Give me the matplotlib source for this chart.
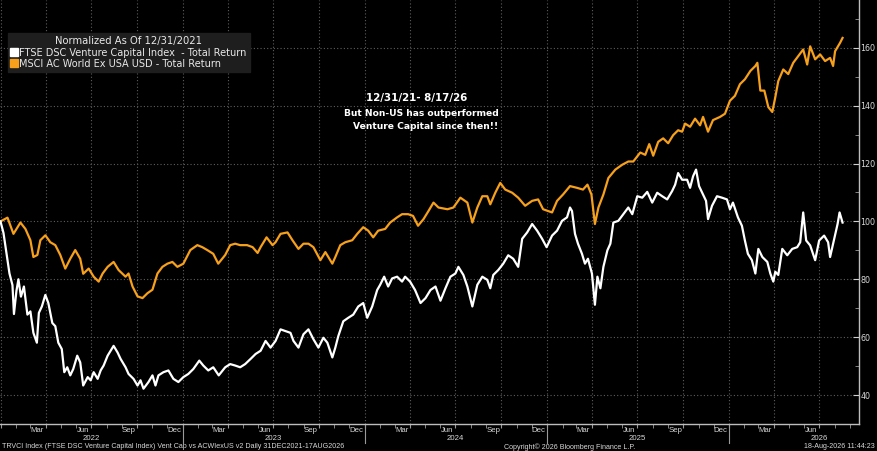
import matplotlib
matplotlib.use("Agg")
import matplotlib.pyplot as plt
import matplotlib.dates as mdates
import matplotlib.transforms as mtrans
from matplotlib.lines import Line2D
import pandas as pd

# ---------------- data ----------------
msci_dates = [
    "2021-12-31", "2022-01-14", "2022-01-26", "2022-02-09", "2022-02-19", "2022-03-01", "2022-03-07",
    "2022-03-15", "2022-03-21", "2022-03-31", "2022-04-10", "2022-04-20", "2022-04-30", "2022-05-10",
    "2022-05-20", "2022-05-30", "2022-06-09", "2022-06-15", "2022-06-26", "2022-07-06", "2022-07-16",
    "2022-07-24", "2022-08-03", "2022-08-15", "2022-08-25", "2022-09-08", "2022-09-14", "2022-09-22",
    "2022-10-02", "2022-10-12", "2022-10-22", "2022-11-01", "2022-11-11", "2022-11-21", "2022-12-01",
    "2022-12-11", "2022-12-21", "2023-01-02", "2023-01-16", "2023-01-30", "2023-02-09", "2023-02-19",
    "2023-03-03", "2023-03-13", "2023-03-27", "2023-04-06", "2023-04-16", "2023-04-26", "2023-05-10",
    "2023-05-21", "2023-05-31", "2023-06-06", "2023-06-18", "2023-06-30", "2023-07-06", "2023-07-16",
    "2023-07-30", "2023-08-09", "2023-08-21", "2023-08-31", "2023-09-10", "2023-09-20", "2023-10-04",
    "2023-10-14", "2023-10-28", "2023-11-03", "2023-11-13", "2023-11-23", "2023-12-07", "2023-12-17",
    "2023-12-29", "2024-01-08", "2024-01-18", "2024-01-28", "2024-02-11", "2024-02-21", "2024-03-06",
    "2024-03-16", "2024-03-28", "2024-04-07", "2024-04-17", "2024-04-28", "2024-05-08", "2024-05-18",
    "2024-05-28", "2024-06-15", "2024-06-27", "2024-07-11", "2024-07-25", "2024-08-04", "2024-08-14",
    "2024-08-24", "2024-09-03", "2024-09-09", "2024-09-19", "2024-09-29", "2024-10-09", "2024-10-23",
    "2024-11-04", "2024-11-18", "2024-12-02", "2024-12-14", "2024-12-24", "2025-01-11", "2025-01-21",
    "2025-02-02", "2025-02-16", "2025-03-02", "2025-03-14", "2025-03-23", "2025-03-31", "2025-04-07",
    "2025-04-14", "2025-04-24", "2025-05-04", "2025-05-18", "2025-06-01", "2025-06-13", "2025-06-23",
    "2025-07-07", "2025-07-17", "2025-07-25", "2025-08-02", "2025-08-12", "2025-08-22", "2025-09-01",
    "2025-09-11", "2025-09-21", "2025-09-29", "2025-10-05", "2025-10-15", "2025-10-25", "2025-11-04",
    "2025-11-10", "2025-11-20", "2025-11-30", "2025-12-14", "2025-12-24", "2026-01-03", "2026-01-13",
    "2026-01-23", "2026-02-02", "2026-02-13", "2026-02-23", "2026-02-27", "2026-03-05", "2026-03-13",
    "2026-03-21", "2026-03-29", "2026-04-04", "2026-04-10", "2026-04-20", "2026-04-30", "2026-05-10",
    "2026-05-20", "2026-05-30", "2026-06-07", "2026-06-13", "2026-06-23", "2026-07-03", "2026-07-13",
    "2026-07-23", "2026-07-29", "2026-08-02", "2026-08-12", "2026-08-17",
]
msci_values = [
    100.0, 101.3, 95.7, 99.6, 97.4, 93.5, 87.7,
    88.4, 93.5, 95.2, 92.8, 91.8, 88.4, 83.7,
    87.1, 90.1, 87.1, 81.9, 83.7, 80.9, 79.2,
    82.0, 84.3, 86.0, 83.2, 80.9, 82.0, 77.5,
    74.1, 73.5, 75.2, 76.4, 82.0, 84.3, 85.4,
    86.0, 84.3, 85.4, 90.1, 91.8, 91.1, 90.1,
    88.8, 85.4, 88.4, 91.8, 92.3, 91.8, 91.8,
    91.1, 89.1, 91.1, 94.5, 91.8, 92.8, 95.7,
    96.2, 93.5, 90.5, 92.3, 92.3, 91.1, 86.6,
    89.4, 85.4, 87.7, 91.8, 92.8, 93.5, 95.7,
    98.0, 96.8, 94.5, 96.8, 97.4, 99.6, 101.4,
    102.5, 102.5, 101.9, 98.5, 100.8, 103.6, 106.5,
    104.8, 104.2, 104.8, 108.2, 106.5, 99.6, 104.8,
    108.7, 108.7, 105.9, 109.9, 113.3, 111.0, 109.9,
    108.2, 105.4, 107.1, 107.6, 104.2, 103.1, 107.1,
    109.3, 112.2, 111.6, 111.0, 112.7, 109.3, 99.1,
    104.8, 109.3, 115.0, 117.9, 119.6, 120.7, 120.7,
    123.8, 123.0, 126.7, 122.7, 127.5, 128.7, 127.0,
    129.8, 131.5, 131.0, 133.8, 132.7, 135.5, 133.2,
    136.1, 131.0, 135.0, 136.1, 137.2, 141.7, 143.4,
    147.4, 149.1, 152.0, 153.7, 154.8, 145.2, 145.2,
    139.5, 137.8, 142.9, 148.5, 152.5, 150.9, 154.8,
    157.1, 159.4, 154.2, 160.5, 156.0, 157.7, 155.4,
    156.5, 153.7, 158.8, 161.7, 163.4,
]

ftse_dates = [
    "2021-12-31", "2022-01-06", "2022-01-12", "2022-01-18", "2022-01-24", "2022-01-27", "2022-02-01",
    "2022-02-05", "2022-02-10", "2022-02-16", "2022-02-23", "2022-03-01", "2022-03-07", "2022-03-14",
    "2022-03-18", "2022-03-24", "2022-03-31", "2022-04-06", "2022-04-14", "2022-04-20", "2022-04-26",
    "2022-05-03", "2022-05-08", "2022-05-14", "2022-05-20", "2022-05-26", "2022-06-03", "2022-06-09",
    "2022-06-15", "2022-06-24", "2022-06-30", "2022-07-06", "2022-07-14", "2022-07-20", "2022-07-26",
    "2022-08-03", "2022-08-09", "2022-08-15", "2022-08-23", "2022-08-29", "2022-09-08", "2022-09-14",
    "2022-09-24", "2022-10-02", "2022-10-08", "2022-10-14", "2022-10-24", "2022-11-01", "2022-11-07",
    "2022-11-13", "2022-11-23", "2022-12-03", "2022-12-13", "2022-12-23", "2023-01-02", "2023-01-12",
    "2023-01-22", "2023-02-03", "2023-02-11", "2023-02-21", "2023-03-03", "2023-03-14", "2023-03-27",
    "2023-04-06", "2023-04-16", "2023-04-26", "2023-05-06", "2023-05-17", "2023-05-27", "2023-06-06",
    "2023-06-16", "2023-06-26", "2023-07-06", "2023-07-16", "2023-07-26", "2023-08-05", "2023-08-11",
    "2023-08-21", "2023-08-31", "2023-09-10", "2023-09-20", "2023-09-30", "2023-10-10", "2023-10-18",
    "2023-10-28", "2023-11-03", "2023-11-09", "2023-11-19", "2023-11-29", "2023-12-09", "2023-12-19",
    "2023-12-29", "2024-01-06", "2024-01-16", "2024-01-26", "2024-02-01", "2024-02-09", "2024-02-17",
    "2024-02-25", "2024-03-06", "2024-03-16", "2024-03-22", "2024-04-01", "2024-04-11", "2024-04-22",
    "2024-05-02", "2024-05-12", "2024-05-22", "2024-06-01", "2024-06-11", "2024-06-21", "2024-07-01",
    "2024-07-07", "2024-07-17", "2024-07-25", "2024-08-04", "2024-08-14", "2024-08-24", "2024-09-03",
    "2024-09-09", "2024-09-15", "2024-09-25", "2024-10-05", "2024-10-15", "2024-10-25", "2024-11-04",
    "2024-11-12", "2024-11-22", "2024-12-02", "2024-12-12", "2024-12-22", "2024-12-31", "2025-01-11",
    "2025-01-21", "2025-01-31", "2025-02-10", "2025-02-16", "2025-02-20", "2025-02-26", "2025-03-04",
    "2025-03-12", "2025-03-18", "2025-03-24", "2025-04-01", "2025-04-07", "2025-04-12", "2025-04-18",
    "2025-04-24", "2025-05-02", "2025-05-08", "2025-05-14", "2025-05-24", "2025-06-03", "2025-06-13",
    "2025-06-21", "2025-07-01", "2025-07-11", "2025-07-21", "2025-07-31", "2025-08-10", "2025-08-20",
    "2025-08-30", "2025-09-09", "2025-09-15", "2025-09-21", "2025-09-29", "2025-10-09", "2025-10-15",
    "2025-10-21", "2025-10-27", "2025-11-02", "2025-11-10", "2025-11-16", "2025-11-20", "2025-11-28",
    "2025-12-08", "2025-12-18", "2025-12-28", "2026-01-03", "2026-01-09", "2026-01-19", "2026-01-27",
    "2026-02-02", "2026-02-08", "2026-02-16", "2026-02-23", "2026-03-01", "2026-03-09", "2026-03-19",
    "2026-03-25", "2026-03-31", "2026-04-04", "2026-04-10", "2026-04-18", "2026-04-28", "2026-05-08",
    "2026-05-18", "2026-05-24", "2026-05-30", "2026-06-05", "2026-06-13", "2026-06-23", "2026-07-01",
    "2026-07-11", "2026-07-19", "2026-07-23", "2026-07-29", "2026-08-07", "2026-08-11", "2026-08-17",
]
ftse_values = [
    100.0, 96.0, 89.0, 82.0, 78.0, 68.0, 76.0,
    80.0, 74.0, 77.5, 67.8, 68.9, 61.5, 58.1,
    68.4, 70.6, 74.6, 71.8, 64.9, 63.8, 58.1,
    55.9, 47.9, 49.6, 46.8, 49.0, 53.6, 51.3,
    43.3, 46.2, 45.1, 47.9, 45.6, 48.5, 50.2,
    53.6, 55.3, 57.0, 54.7, 52.5, 49.6, 47.3,
    45.6, 43.3, 45.1, 42.2, 44.5, 46.8, 43.3,
    46.8, 47.9, 48.5, 45.6, 44.5, 46.2, 47.3,
    49.0, 51.9, 50.2, 48.5, 49.6, 46.8, 49.6,
    50.7, 50.2, 49.6, 50.7, 52.5, 54.2, 55.3,
    58.7, 56.4, 58.7, 62.7, 62.1, 61.5, 58.7,
    56.4, 61.0, 62.7, 59.3, 56.4, 59.8, 58.1,
    53.0, 56.4, 60.4, 65.5, 66.7, 67.8, 70.6,
    71.8, 66.7, 70.6, 76.3, 78.1, 80.9, 77.5,
    80.3, 80.9, 79.2, 80.9, 79.2, 76.3, 71.8,
    73.5, 76.3, 77.5, 72.6, 76.9, 80.9, 82.0,
    84.3, 81.5, 77.5, 70.6, 78.1, 80.9, 79.8,
    76.9, 81.5, 83.2, 85.4, 88.3, 87.1, 84.3,
    94.0, 96.2, 99.1, 96.8, 94.0, 91.1, 95.1,
    96.8, 100.2, 101.4, 104.8, 103.6, 95.7, 92.3,
    88.8, 85.4, 87.1, 82.0, 71.2, 80.9, 76.9,
    84.3, 90.0, 92.3, 99.6, 100.2, 102.5, 104.8,
    102.5, 108.7, 108.2, 110.2, 106.5, 109.9, 108.7,
    107.6, 110.5, 112.7, 116.7, 114.4, 114.4, 111.6,
    115.6, 117.9, 112.2, 109.3, 107.1, 100.8, 105.4,
    108.7, 108.2, 107.6, 104.2, 106.5, 101.4, 98.5,
    93.4, 88.8, 86.6, 82.0, 90.5, 87.7, 86.0,
    82.0, 79.2, 82.6, 81.5, 90.5, 88.3, 90.5,
    91.1, 92.8, 103.1, 93.4, 91.7, 86.6, 93.4,
    95.1, 92.8, 87.7, 92.3, 99.1, 103.1, 99.6,
]

legend_title = "Normalized As Of 12/31/2021"
ftse_label = "FTSE DSC Venture Capital Index  - Total Return"
msci_label = "MSCI AC World Ex USA USD - Total Return"
note_lines = ["12/31/21- 8/17/26", "But Non-US has outperformed", "Venture Capital since then!!"]
y_major = [40, 60, 80, 100, 120, 140, 160]
y_minor = [30, 50, 70, 90, 110, 130, 150, 170]
footer_left = "TRVCI Index (FTSE DSC Venture Capital Index) Vent Cap vs ACWIexUS v2 Daily 31DEC2021-17AUG2026"
footer_mid = "Copyright\u00a9 2026 Bloomberg Finance L.P."
footer_right = "18-Aug-2026 11:44:23"

# ---------------- styling ----------------
W, H = 877, 451
BG = "black"
ORANGE = "#f6a01c"
TXT = "#d8d8d8"
GRID = "#5e5e5e"
NARROW = ["Liberation Sans Narrow", "Liberation Sans", "DejaVu Sans"]

fig = plt.figure(figsize=(W / 100, H / 100), dpi=100, facecolor=BG)
ax_bottom_px = 424
ax = fig.add_axes([0, (H - ax_bottom_px) / H, 859 / W, ax_bottom_px / H], facecolor=BG)

md = pd.to_datetime(msci_dates)
fd = pd.to_datetime(ftse_dates)
ax.plot(md, msci_values, color=ORANGE, lw=1.6, solid_joinstyle="round", zorder=3)
ax.plot(fd, ftse_values, color="white", lw=1.6, solid_joinstyle="round", zorder=4)

ax.set_xlim(pd.Timestamp("2021-12-30"), pd.Timestamp("2026-09-19"))
ax.set_ylim(31.7, 176.5)

# spines
for s in ["left", "top"]:
    ax.spines[s].set_visible(False)
ax.spines["right"].set_color("#bdbdbd")
ax.spines["bottom"].set_color("#bdbdbd")
ax.spines["right"].set_linewidth(1.0)
ax.spines["bottom"].set_linewidth(1.0)

# y axis on right
ax.yaxis.tick_right()
ax.set_yticks(y_major)
ax.set_yticks(y_minor, minor=True)
ax.set_yticklabels([str(v) for v in y_major])
ax.tick_params(axis="y", which="major", direction="in", length=4, color="#cfcfcf",
               labelcolor=TXT, labelsize=5.8, pad=1)
ax.tick_params(axis="y", which="minor", direction="in", length=3, color="#9a9a9a")
for lab in ax.get_yticklabels():
    lab.set_family(["DejaVu Sans"])
ax.yaxis.grid(True, which="major", color=GRID, linestyle=(0, (1, 2)), lw=0.8)

# x axis: quarter gridlines, monthly ticks
ax.xaxis.set_major_locator(mdates.MonthLocator(bymonth=[1, 4, 7, 10]))
ax.xaxis.set_minor_locator(mdates.MonthLocator())
ax.xaxis.set_major_formatter(plt.NullFormatter())
ax.tick_params(axis="x", which="both", direction="out", length=3, color="#9a9a9a")
ax.xaxis.grid(True, which="major", color=GRID, linestyle=(0, (1, 2)), lw=0.8)
ax.set_axisbelow(True)

trans = mtrans.blended_transform_factory(ax.transData, ax.transAxes)
px = 1.0 / ax_bottom_px
month_pos = [pd.Timestamp(y, m, 15) for y in range(2022, 2027) for m in (3, 6, 9, 12)
             if pd.Timestamp(y, m, 15) < pd.Timestamp("2026-08-01")]
for d in month_pos:
    ax.text(d, -7 * px, d.strftime("%b"), transform=trans, ha="center", va="center",
            color=TXT, fontsize=5.6, family=NARROW)
for yr in range(2022, 2027):
    ax.text(pd.Timestamp(yr, 7, 1), -14.5 * px, str(yr), transform=trans, ha="center",
            va="center", color=TXT, fontsize=5.6, family=NARROW)
for yr in range(2023, 2027):
    ax.add_line(Line2D([pd.Timestamp(yr, 1, 1)] * 2, [0, -19 * px], transform=trans,
                       color="#9a9a9a", lw=0.8, clip_on=False))

# annotation text
note_pos = [(417, 97.5), (421, 114), (426, 126.5)]
note_size = [7.4, 6.6, 6.6]
for (x, y), t, fs in zip(note_pos, note_lines, note_size):
    fig.text(x / W, 1 - y / H, t, ha="center", va="center", color="white",
             fontsize=fs, fontweight="bold", family=["DejaVu Sans"])

# legend
handles = [Line2D([], [], marker="s", ls="none", color="white", markersize=5.5),
           Line2D([], [], marker="s", ls="none", color=ORANGE, markersize=5.5)]
leg = fig.legend(handles, [ftse_label, msci_label], title=legend_title,
                 loc="upper left", bbox_to_anchor=(8 / W, 1 - 33 / H), borderaxespad=0,
                 frameon=True, facecolor="#1e1e1e", edgecolor="#1e1e1e", framealpha=1,
                 fancybox=False, title_fontsize=7.2, handlelength=0.6,
                 handletextpad=0.2, labelspacing=0.12, borderpad=0.35,
                 prop={"family": "DejaVu Sans", "size": 7.0})
leg.get_title().set_color("#e8e8e8")
leg.get_title().set_family("DejaVu Sans")
for t in leg.get_texts():
    t.set_color("#e8e8e8")

# footer
fig.text(2 / W, 1 - 447 / H, footer_left, ha="left", va="center", color=TXT,
         fontsize=5.1, family=NARROW)
fig.text(570 / W, 1 - 447 / H, footer_mid, ha="center", va="center", color=TXT,
         fontsize=5.1, family=NARROW)
fig.text(875 / W, 1 - 447 / H, footer_right, ha="right", va="center", color=TXT,
         fontsize=5.1, family=NARROW)

fig.savefig("out.png", dpi=100, facecolor=BG)
